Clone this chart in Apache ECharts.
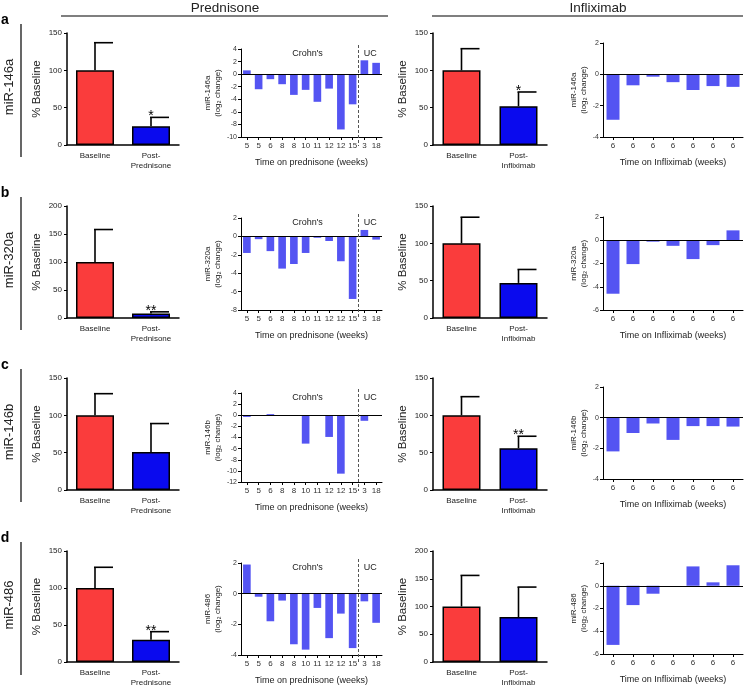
<!DOCTYPE html>
<html><head><meta charset="utf-8">
<script src="https://cdn.jsdelivr.net/npm/echarts@6/dist/echarts.min.js"></script>
<style>html,body{margin:0;padding:0;background:#fff}#c{width:746px;height:688px}</style>
</head><body><div id="c"></div>
<script>
// ---------- DATA ----------
const rowLetters = ['a', 'b', 'c', 'd'];
const rowNames = ['miR-146a', 'miR-320a', 'miR-146b', 'miR-486'];

const predBarCats = ['Baseline', 'Post-\nPrednisone'];
const inflBarCats = ['Baseline', 'Post-\nInfliximab'];

// % Baseline: mean and top of error bar
const predMeanA = [100, 25],  predTopA = [137, 37],  predStarA = ['', '*'];
const predMeanB = [100, 8],   predTopB = [158, 11],  predStarB = ['', '**'];
const predMeanC = [100, 51],  predTopC = [129, 89],  predStarC = ['', ''];
const predMeanD = [100, 30],  predTopD = [128, 41],  predStarD = ['', '**'];
const inflMeanA = [100, 52],  inflTopA = [129, 71],  inflStarA = ['', '*'];
const inflMeanB = [100, 47],  inflTopB = [135, 65],  inflStarB = ['', ''];
const inflMeanC = [100, 56],  inflTopC = [125, 72],  inflStarC = ['', '**'];
const inflMeanD = [100, 81],  inflTopD = [156, 135], inflStarD = ['', ''];

const predBarMax = [150, 200, 150, 150];
const inflBarMax = [150, 150, 150, 200];

// waterfall (log2 change)
const predWeeks = ['5', '5', '6', '8', '8', '10', '11', '12', '12', '15', '3', '18'];
const inflWeeks = ['6', '6', '6', '6', '6', '6', '6'];
const predLogA = [0.6, -2.4, -0.8, -1.6, -3.3, -2.5, -4.4, -2.3, -8.8, -4.8, 2.2, 1.8];
const predLogB = [-1.8, -0.3, -1.6, -3.5, -3.0, -1.8, -0.15, -0.5, -2.7, -6.8, 0.7, -0.35];
const predLogC = [-0.3, 0, 0.2, 0, 0, -5.1, 0, -3.9, -10.5, 0, -1.0, 0];
const predLogD = [1.9, -0.2, -1.8, -0.45, -3.3, -3.65, -0.93, -2.9, -1.3, -3.55, -0.5, -1.9];
const inflLogA = [-2.9, -0.7, -0.15, -0.5, -1.0, -0.75, -0.8];
const inflLogB = [-4.6, -2.05, -0.12, -0.48, -1.62, -0.42, 0.85];
const inflLogC = [-2.2, -1.0, -0.38, -1.45, -0.55, -0.55, -0.58];
const inflLogD = [-5.2, -1.7, -0.7, 0, 1.7, 0.3, 1.8];

const predLogMin = [-10, -8, -12, -4], predLogMax = [4, 2, 4, 2];
const inflLogMin = [-4, -6, -4, -6],   inflLogMax = [2, 2, 2, 2];

// ---------- STYLE / LAYOUT ----------
const FONT = '"Liberation Sans", Arial, sans-serif';
const RED = '#FA3C3C', BLUE = '#0A0AEE', WF = '#5454F2';
const ROW_DY = [0, 173, 345, 518];
const barTop = [33, 206, 378, 551], barH = 112;
const predWTop = [49, 218, 393, 563], predWBot = [137, 310, 482, 655];
const inflWTop = [43, 217, 387, 563], inflWBot = [137, 310, 479, 654];

const grids = [], xAxes = [], yAxes = [], series = [];

function addBarPanel(left, width, top, cats, means, tops, stars, ymax) {
  const idx = grids.length;
  grids.push({left: left, top: top, width: width, height: barH});
  xAxes.push({type: 'category', gridIndex: idx, data: cats,
    axisLine: {onZero: false, lineStyle: {color: '#000', width: 1.5}},
    axisTick: {show: false},
    axisLabel: {color: '#222', fontSize: 8, fontFamily: FONT, margin: 6, lineHeight: 10, interval: 0}});
  yAxes.push({type: 'value', gridIndex: idx, min: 0, max: ymax, interval: 50,
    name: '% Baseline', nameLocation: 'middle', nameGap: 24, nameRotate: 90,
    nameTextStyle: {fontSize: 11.5, color: '#222', fontFamily: FONT},
    axisLine: {show: true, lineStyle: {color: '#000', width: 1.5}},
    axisTick: {show: true, length: 3, lineStyle: {color: '#000', width: 1}},
    axisLabel: {fontSize: 8, color: '#222', margin: 5, fontFamily: FONT},
    splitLine: {show: false}});
  series.push({type: 'bar', xAxisIndex: idx, yAxisIndex: idx, barWidth: 38,
    data: means.map((v, i) => ({value: v, itemStyle: {color: i === 0 ? RED : BLUE}})),
    itemStyle: {borderColor: '#000', borderWidth: 1.5}, z: 2});
  series.push({type: 'custom', xAxisIndex: idx, yAxisIndex: idx, z: 3,
    data: means.map((m, i) => [i, m, tops[i]]),
    renderItem: function (params, api) {
      const i = api.value(0);
      const p0 = api.coord([i, api.value(1)]);
      const p1 = api.coord([i, api.value(2)]);
      const ch = [
        {type: 'line', shape: {x1: p0[0], y1: p0[1], x2: p1[0], y2: p1[1]}, style: {stroke: '#000', lineWidth: 1.6}},
        {type: 'line', shape: {x1: p1[0] - 1, y1: p1[1], x2: p1[0] + 18, y2: p1[1]}, style: {stroke: '#000', lineWidth: 1.6}}
      ];
      const s = stars[params.dataIndex];
      if (s) ch.push({type: 'text', style: {text: s, x: p1[0], y: p1[1] - 1, align: 'center', verticalAlign: 'middle',
        fontSize: 14, fontFamily: FONT, fill: '#000'}});
      return {type: 'group', children: ch};
    }});
}

function addWaterPanel(left, width, top, bottom, cats, vals, ymin, ymax, yname, xname, nameGapY, annot) {
  const idx = grids.length;
  grids.push({left: left, top: top, width: width, height: bottom - top});
  xAxes.push({type: 'category', gridIndex: idx, data: cats,
    axisLine: {onZero: false, lineStyle: {color: '#000', width: 1}},
    axisTick: {show: true, alignWithLabel: true, length: 3, lineStyle: {color: '#000'}},
    axisLabel: {fontSize: 8, color: '#333', margin: 5, interval: 0, fontFamily: FONT},
    name: xname, nameLocation: 'middle', nameGap: 21,
    nameTextStyle: {fontSize: 9, color: '#222', fontFamily: FONT}});
  yAxes.push({type: 'value', gridIndex: idx, min: ymin, max: ymax, interval: 2,
    name: yname, nameLocation: 'middle', nameGap: nameGapY, nameRotate: 90,
    nameTextStyle: {fontSize: 8, color: '#222', fontFamily: FONT, lineHeight: 10},
    axisLine: {show: true, lineStyle: {color: '#000', width: 1}},
    axisTick: {show: true, length: 3, lineStyle: {color: '#000'}},
    axisLabel: {fontSize: 7, color: '#333', margin: 4, fontFamily: FONT},
    splitLine: {show: false}});
  series.push({type: 'bar', xAxisIndex: idx, yAxisIndex: idx, barWidth: '65%', data: vals,
    itemStyle: {color: WF},
    markLine: {silent: true, symbol: 'none', label: {show: false},
      lineStyle: {color: '#000', type: 'solid', width: 1}, data: [{yAxis: 0}]}});
  if (annot) {
    series.push({type: 'custom', xAxisIndex: idx, yAxisIndex: idx, z: 5, data: [[0, 0]],
      renderItem: function (params, api) {
        const cs = params.coordSys;
        const xb = (api.coord([9, 0])[0] + api.coord([10, 0])[0]) / 2;
        const xc = (api.coord([5, 0])[0] + api.coord([6, 0])[0]) / 2 - 4;
        const xu = (api.coord([10, 0])[0] + api.coord([11, 0])[0]) / 2;
        const ty = cs.y + 5;
        return {type: 'group', children: [
          {type: 'line', shape: {x1: xb, y1: cs.y - 4, x2: xb, y2: cs.y + cs.height + 9},
            style: {stroke: '#555', lineWidth: 1, lineDash: [3, 2]}},
          {type: 'text', style: {text: "Crohn's", x: xc, y: ty, align: 'center', verticalAlign: 'middle', fontSize: 9, fontFamily: FONT, fill: '#222'}},
          {type: 'text', style: {text: 'UC', x: xu, y: ty, align: 'center', verticalAlign: 'middle', fontSize: 9, fontFamily: FONT, fill: '#222'}}
        ]};
      }});
  }
}

const predMeans = [predMeanA, predMeanB, predMeanC, predMeanD];
const predTops = [predTopA, predTopB, predTopC, predTopD];
const predStars = [predStarA, predStarB, predStarC, predStarD];
const inflMeans = [inflMeanA, inflMeanB, inflMeanC, inflMeanD];
const inflTops = [inflTopA, inflTopB, inflTopC, inflTopD];
const inflStars = [inflStarA, inflStarB, inflStarC, inflStarD];
const predLogs = [predLogA, predLogB, predLogC, predLogD];
const inflLogs = [inflLogA, inflLogB, inflLogC, inflLogD];

for (let r = 0; r < 4; r++) {
  addBarPanel(67, 112, barTop[r], predBarCats, predMeans[r], predTops[r], predStars[r], predBarMax[r]);
  addWaterPanel(241, 141, predWTop[r], predWBot[r], predWeeks, predLogs[r], predLogMin[r], predLogMax[r],
    rowNames[r] + '\n(log\u2082 change)', 'Time on prednisone (weeks)', 18, true);
  addBarPanel(433, 114, barTop[r], inflBarCats, inflMeans[r], inflTops[r], inflStars[r], inflBarMax[r]);
  addWaterPanel(603, 140, inflWTop[r], inflWBot[r], inflWeeks, inflLogs[r], inflLogMin[r], inflLogMax[r],
    rowNames[r] + '\n(log\u2082 change)', 'Time on Infliximab (weeks)', 14, false);
}

const graphics = [
  {type: 'text', x: 225, y: 8, style: {text: 'Prednisone', align: 'center', verticalAlign: 'middle', fontSize: 13.5, fontFamily: FONT, fill: '#222'}},
  {type: 'line', shape: {x1: 61, y1: 16, x2: 388, y2: 16}, style: {stroke: '#000', lineWidth: 1.2}},
  {type: 'text', x: 598, y: 8, style: {text: 'Infliximab', align: 'center', verticalAlign: 'middle', fontSize: 13.5, fontFamily: FONT, fill: '#222'}},
  {type: 'line', shape: {x1: 432, y1: 16, x2: 743, y2: 16}, style: {stroke: '#000', lineWidth: 1.2}}
];
for (let r = 0; r < 4; r++) {
  const dy = ROW_DY[r];
  graphics.push({type: 'text', x: 5, y: 20 + dy, style: {text: rowLetters[r], align: 'center', verticalAlign: 'middle', fontSize: 14, fontWeight: 'bold', fontFamily: FONT, fill: '#000'}});
  graphics.push({type: 'text', x: 9, y: 87 + dy, rotation: Math.PI / 2, style: {text: rowNames[r], align: 'center', verticalAlign: 'middle', fontSize: 13, fontFamily: FONT, fill: '#222'}});
  graphics.push({type: 'line', shape: {x1: 21, y1: 24 + dy, x2: 21, y2: 157 + dy}, style: {stroke: '#000', lineWidth: 1.2}});
}

const chart = echarts.init(document.getElementById('c'), null, {renderer: 'canvas'});
chart.setOption({
  animation: false,
  backgroundColor: '#fff',
  textStyle: {fontFamily: FONT},
  grid: grids, xAxis: xAxes, yAxis: yAxes, series: series, graphic: graphics
});
</script></body></html>
